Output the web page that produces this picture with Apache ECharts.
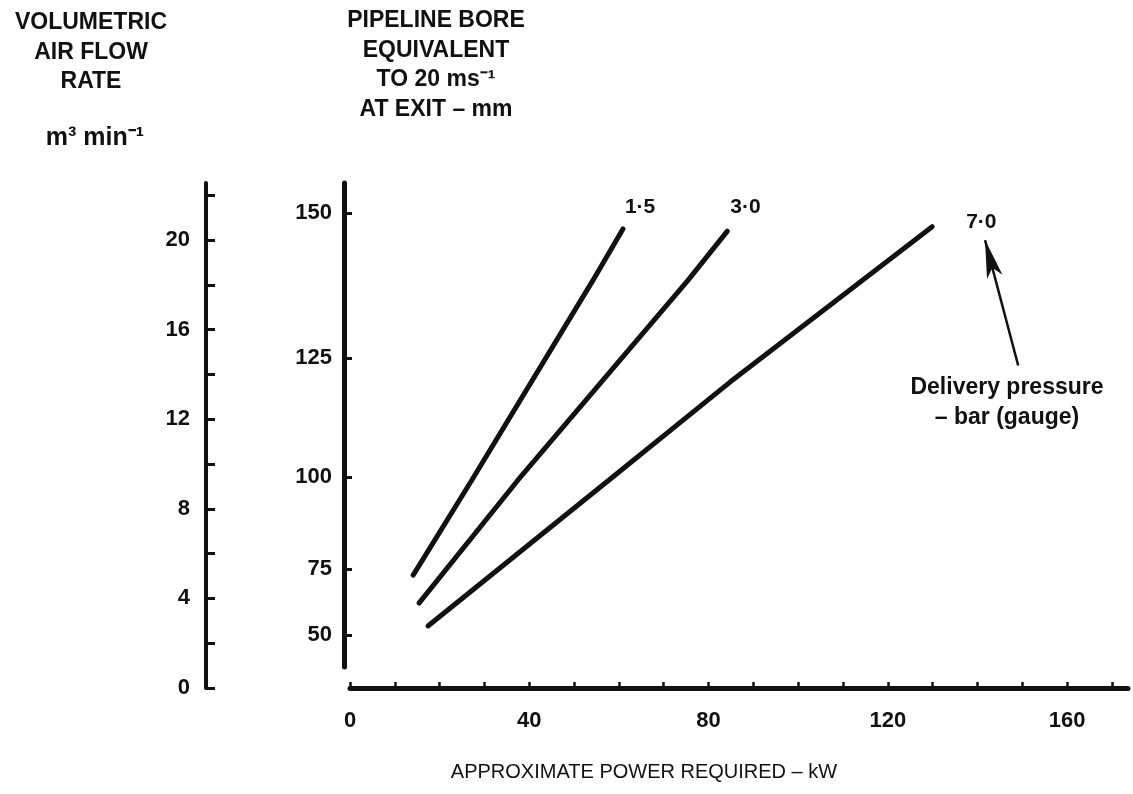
<!DOCTYPE html>
<html>
<head>
<meta charset="utf-8">
<script src="https://cdn.jsdelivr.net/npm/echarts@6/dist/echarts.min.js"></script>
<style>
html, body { margin: 0; padding: 0; background: #fff; }
#chart { width: 1133px; height: 794px; }
</style>
</head>
<body>
<div id="chart"></div>
<script>
// left scale: volumetric air flow, m3/min
const flowTicks = [0, 2, 4, 6, 8, 10, 12, 14, 16, 18, 20, 22]
const flowLabels = [0, 4, 8, 12, 16, 20]
// middle scale: pipeline bore (mm) that gives 20 m/s at exit for that flow
const boreLabels = [50, 75, 100, 125, 150]
// x scale: power, kW
const powerTicks = [0, 10, 20, 30, 40, 50, 60, 70, 80, 90, 100, 110, 120, 130, 140, 150, 160, 170]
const powerLabels = [0, 40, 80, 120, 160]

// delivery pressure lines (bar gauge): power kW vs flow m3/min
const pressureNames = ['1·5', '3·0', '7·0']
const power15 = [14.1, 27.2, 54.2, 60.9]
const flow15 = [5.04, 9.29, 18.2, 20.5]
const power30 = [15.4, 37.5, 75.4, 84.2]
const flow30 = [3.79, 9.29, 18.2, 20.4]
const power70 = [17.4, 57.8, 84.8, 129.9]
const flow70 = [2.77, 9.29, 13.66, 20.6]

// arrow from the "Delivery pressure" note up to the 7·0 label
const arrowFrom = [149.1, 14.4]
const arrowTo = [141.7, 20.0]

const ink = '#111'
const font = "'Liberation Sans', Arial, sans-serif"

// bore (mm) <-> flow (m3/min) at 20 m/s
const flowFromBore = d => 20 * 60 * Math.PI * d * d / 4 / 1e6
const boreFromFlow = q => Math.sqrt(q * 4 * 1e6 / (20 * 60 * Math.PI))

const chart = echarts.init(document.getElementById('chart'))

const toPairs = (xs, ys) => xs.map((x, i) => [x, ys[i]])
const lineData = [toPairs(power15, flow15), toPairs(power30, flow30), toPairs(power70, flow70)]
const labelOffsets = [[-6, -22], [-5, -24], [26, -4]]

const series = lineData.map((d, i) => ({
  name: pressureNames[i],
  type: 'line',
  xAxisIndex: 1,
  yAxisIndex: 1,
  data: d,
  showSymbol: false,
  symbol: 'none',
  lineStyle: { color: ink, width: 5, cap: 'round' },
  endLabel: {
    show: true,
    formatter: pressureNames[i],
    offset: labelOffsets[i],
    color: ink,
    fontSize: 21,
    fontWeight: 'bold',
    fontFamily: font
  }
}))

series[2].markLine = {
  silent: true,
  symbol: ['none', 'arrow'],
  symbolSize: [12, 38],
  label: { show: false },
  lineStyle: { color: ink, width: 2.5, type: 'solid' },
  data: [[{ coord: arrowFrom }, { coord: arrowTo }]]
}

// centred block of text; x,y is the top centre
const textBlock = (lines, x, y, size, weight, lh) => ({
  type: 'text',
  x: x,
  y: y,
  style: {
    text: lines.join('\n'),
    align: 'center',
    verticalAlign: 'top',
    fill: ink,
    font: weight + ' ' + size + 'px ' + font,
    lineHeight: lh
  }
})

const option = {
  animation: false,
  backgroundColor: '#fff',
  grid: [
    { left: 206, top: 183, width: 20, height: 505 },
    { left: 350, top: 183, width: 778, height: 484 }
  ],
  xAxis: [
    { gridIndex: 0, type: 'value', show: false },
    {
      gridIndex: 1,
      type: 'value',
      min: 0,
      max: 173.6,
      position: 'bottom',
      offset: 21,
      axisLine: { show: true, onZero: false, lineStyle: { color: ink, width: 5, cap: 'round' } },
      axisTick: { show: true, inside: true, length: 6, customValues: powerTicks, lineStyle: { color: ink, width: 2.5 } },
      axisLabel: {
        customValues: powerLabels,
        margin: 22,
        color: ink,
        fontSize: 22,
        fontWeight: 'bold',
        fontFamily: font
      },
      splitLine: { show: false }
    }
  ],
  yAxis: [
    {
      gridIndex: 0,
      type: 'value',
      min: 0,
      max: 22.55,
      position: 'left',
      axisLine: { show: true, onZero: false, lineStyle: { color: ink, width: 4, cap: 'round' } },
      axisTick: { show: true, inside: true, length: 9, customValues: flowTicks, lineStyle: { color: ink, width: 3 } },
      axisLabel: {
        customValues: flowLabels,
        margin: 16,
        color: ink,
        fontSize: 22,
        fontWeight: 'bold',
        fontFamily: font
      },
      splitLine: { show: false }
    },
    {
      gridIndex: 1,
      type: 'value',
      min: 0.9375,
      max: 22.55,
      position: 'left',
      offset: 6,
      axisLine: { show: true, onZero: false, lineStyle: { color: ink, width: 5, cap: 'round' } },
      axisTick: { show: true, inside: true, length: 8, customValues: boreLabels.map(flowFromBore), lineStyle: { color: ink, width: 3 } },
      axisLabel: {
        customValues: boreLabels.map(flowFromBore),
        formatter: v => String(Math.round(boreFromFlow(v))),
        margin: 12,
        color: ink,
        fontSize: 22,
        fontWeight: 'bold',
        fontFamily: font
      },
      splitLine: { show: false }
    }
  ],
  graphic: [
    textBlock(['VOLUMETRIC', 'AIR FLOW', 'RATE'], 91, 8, 23, 'bold', 29.5),
    textBlock(['m³ min⁻¹'], 95, 124, 25, 'bold', 28),
    textBlock(['PIPELINE BORE', 'EQUIVALENT', 'TO 20 ms⁻¹', 'AT EXIT – mm'], 436, 6, 23, 'bold', 29.5),
    textBlock(['Delivery pressure', '– bar (gauge)'], 1007, 373, 23, 'bold', 30),
    textBlock(['APPROXIMATE POWER REQUIRED – kW'], 644, 760, 20, 'normal', 24)
  ],
  series
}

chart.setOption(option)
</script>
</body>
</html>
